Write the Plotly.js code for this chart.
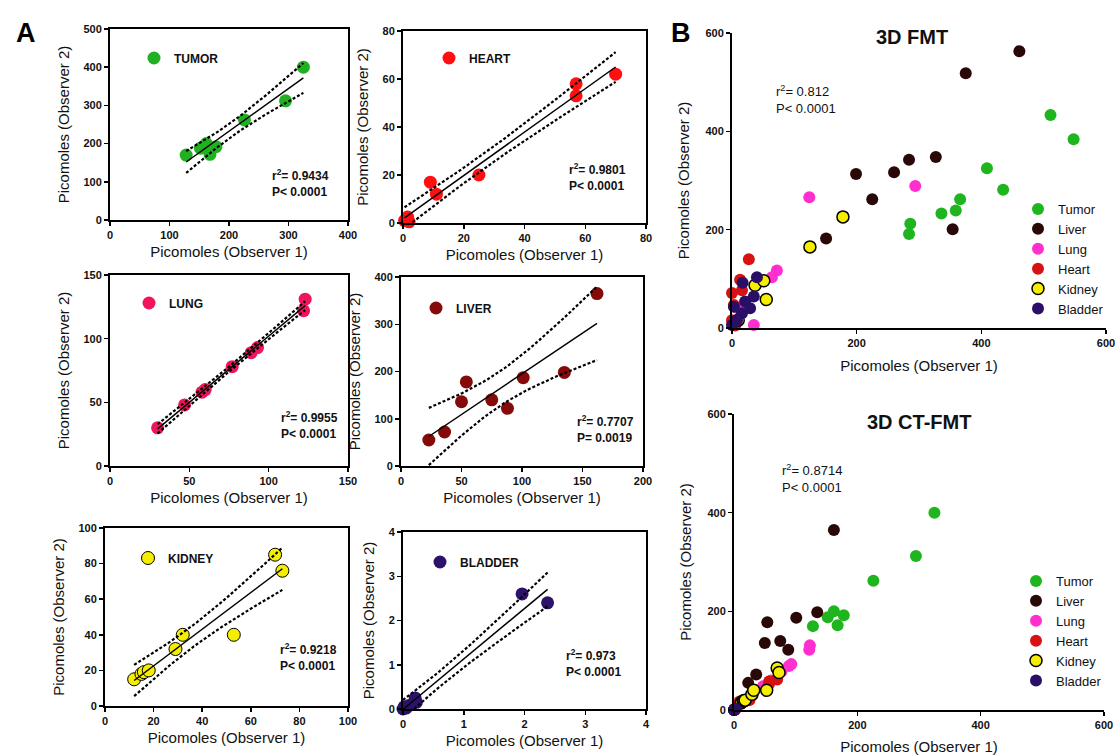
<!DOCTYPE html>
<html><head><meta charset="utf-8">
<script src="https://cdn.plot.ly/plotly-3.0.1.min.js"></script>
<style>html,body{margin:0;padding:0;background:#fff}#chart{width:1117px;height:755px}</style>
</head><body><div id="chart"></div>
<script>
// ---------- Panel A data (Observer 1 vs Observer 2) ----------
const tumorX   = [128, 152, 162, 168, 178, 226, 295, 325];
const tumorY   = [170, 188, 200, 172, 192, 262, 312, 400];
const heartX   = [0.5, 1.5, 2, 9, 11, 25, 57, 57, 70];
const heartY   = [1, 2.5, 0.5, 17, 12, 20, 58, 53, 62];
const lungX    = [30, 47, 58, 60, 77, 89, 93, 122, 123];
const lungY    = [30, 48, 58, 60, 78, 89, 93, 122, 131];
const liverX   = [23, 36, 50, 54, 75, 88, 101, 135, 162];
const liverY   = [55, 72, 136, 178, 140, 122, 187, 198, 365];
const kidneyX  = [12, 15, 16, 18, 29, 32, 53, 70, 73];
const kidneyY  = [15, 18, 19, 20, 32, 40, 40, 85, 76];
const bladderX = [0, 0.02, 0.05, 0.1, 0.2, 0.22, 1.96, 2.38];
const bladderY = [0, 0.05, 0.02, 0.08, 0.25, 0.15, 2.6, 2.4];

// ---------- Panel B, 3D FMT data ----------
const fmtTumorX   = [511, 548, 409, 435, 366, 359, 336, 286, 284];
const fmtTumorY   = [433, 384, 325, 281, 262, 239, 233, 212, 191];
const fmtLiverX   = [461, 375, 327, 284, 260, 199, 225, 354, 151];
const fmtLiverY   = [563, 518, 348, 342, 317, 313, 262, 201, 182];
const fmtLungX    = [124, 294, 72, 64, 35, 10];
const fmtLungY    = [266, 289, 117, 103, 6, 40];
const fmtHeartX   = [27, 13, 0, 16, 3, 0, 5];
const fmtHeartY   = [140, 98, 71, 77, 47, 16, 5];
const fmtKidneyX  = [178, 125, 37, 51, 55, 10];
const fmtKidneyY  = [226, 165, 87, 96, 58, 16];
const fmtBladderX = [40, 17, 35, 21, 3, 29, 16, 8, 0];
const fmtBladderY = [103, 92, 64, 54, 43, 40, 30, 16, 6];

// ---------- Labels ----------
const organNamesA = ['TUMOR', 'HEART', 'LUNG', 'LIVER', 'KIDNEY', 'BLADDER'];
const organNamesB = ['Tumor', 'Liver', 'Lung', 'Heart', 'Kidney', 'Bladder'];
const r2A = ['0.9434', '0.9801', '0.9955', '0.7707', '0.9218', '0.973'];
const pA  = ['P< 0.0001', 'P< 0.0001', 'P< 0.0001', 'P= 0.0019', 'P< 0.0001', 'P< 0.0001'];
const xTitlesA = ['Picomoles (Observer 1)', 'Picomoles (Observer 1)', 'Picolomes (Observer 1)',
                  'Picomoles (Observer 1)', 'Picomoles (Observer 1)', 'Picomoles (Observer 1)'];
const r2B = ['0.812', '0.8714'];
const pB  = ['P< 0.0001', 'P< 0.0001'];
const titlesB = ['3D FMT', '3D CT-FMT'];

const W = 1117, H = 755;
const F = 'Liberation Sans, Arial, sans-serif';
const T95 = {1:12.706,2:4.303,3:3.182,4:2.776,5:2.571,6:2.447,7:2.365,8:2.306,9:2.262,10:2.228};

function regression(x, y) {
  const n = x.length;
  const mx = x.reduce((a, b) => a + b, 0) / n;
  const my = y.reduce((a, b) => a + b, 0) / n;
  let sxx = 0, sxy = 0;
  for (let i = 0; i < n; i++) { sxx += (x[i]-mx)**2; sxy += (x[i]-mx)*(y[i]-my); }
  const b = sxy / sxx, a = my - b * mx;
  let sse = 0;
  for (let i = 0; i < n; i++) sse += (y[i] - (a + b * x[i]))**2;
  const s = Math.sqrt(sse / (n - 2)), t = T95[n - 2];
  const lo = Math.min(...x), hi = Math.max(...x);
  const xs = [], yh = [], up = [], dn = [];
  for (let k = 0; k <= 40; k++) {
    const xv = lo + (hi - lo) * k / 40, yv = a + b * xv;
    const h = t * s * Math.sqrt(1 / n + (xv - mx)**2 / sxx);
    xs.push(xv); yh.push(yv); up.push(yv + h); dn.push(yv - h);
  }
  return {xs, yh, up, dn};
}

const dataA = [[tumorX,tumorY],[heartX,heartY],[lungX,lungY],[liverX,liverY],[kidneyX,kidneyY],[bladderX,bladderY]];
const colorsA = ['#21b021', '#ff1010', '#f0145a', '#850b0b', '#f5ee00', '#2c1268'];
const colorsB = ['#1fb51f', '#2a0808', '#ff2fcf', '#d81212', '#f5ee00', '#2a0f66'];
// layout geometry (pixels)
const geomA = [
  {px:[110,348], py:[29,220],  xr:[0,400], xd:100, yr:[0,500], yd:100, leg:[155,58],  st:[270,165]},
  {px:[403,646], py:[31,223],  xr:[0,80],  xd:20,  yr:[0,80],  yd:20,  leg:[450,58],  st:[567,159]},
  {px:[110,348], py:[275,466], xr:[0,150], xd:50,  yr:[0,150], yd:50,  leg:[150,303], st:[279,407]},
  {px:[401,643], py:[277,466], xr:[0,200], xd:50,  yr:[0,400], yd:100, leg:[437,308], st:[575,411]},
  {px:[105,348], py:[528,706], xr:[0,100], xd:20,  yr:[0,100], yd:20,  leg:[149,558], st:[278,639]},
  {px:[403,646], py:[532,709], xr:[0,4],   xd:1,   yr:[0,4],   yd:1,   leg:[441,562], st:[564,645]}
];
const geomB = [
  {px:[732,1106], py:[33,328],  leg:[1039,259], st:[774,81],  title:[912,37]},
  {px:[734,1104], py:[414,710], leg:[1037,631], st:[780,460], title:[919,422]}
];

function axisCfg(px, py, range, dtick, anchor, title, mirror, isX, standoff) {
  return {
    domain: isX ? [px[0]/W, px[1]/W] : [1 - py[1]/H, 1 - py[0]/H],
    range: range, dtick: dtick, tick0: 0, anchor: anchor,
    showline: true, linecolor: '#000', linewidth: 2, mirror: mirror,
    ticks: 'outside', ticklen: 4, tickwidth: 1.5, tickcolor: '#000',
    showgrid: false, zeroline: false, fixedrange: true,
    tickfont: {family: F, size: 11, weight: 'bold', color: '#111'},
    title: {text: title, font: {family: F, size: 15, color: '#111'}, standoff: standoff}
  };
}

const traces = [];
const layout = {
  width: W, height: H, margin: {l:0, r:0, t:0, b:0},
  paper_bgcolor: '#fff', plot_bgcolor: '#fff', showlegend: true,
  annotations: []
};

function legendCfg(cx, cy, size, weight) {
  return {x: (cx - 21)/W, y: 1 - cy/H, xanchor: 'left', yanchor: 'middle',
          bgcolor: 'rgba(0,0,0,0)', borderwidth: 0, tracegroupgap: 0,
          font: {family: F, size: size, weight: weight, color: '#111'}};
}

// Panel A
dataA.forEach((d, i) => {
  const k = i + 1, sfx = k === 1 ? '' : String(k), g = geomA[i];
  const xa = 'x' + sfx, ya = 'y' + sfx, lg = 'legend' + sfx;
  layout['xaxis' + sfx] = axisCfg(g.px, g.py, g.xr, g.xd, ya, xTitlesA[i], true, true, 6);
  layout['yaxis' + sfx] = axisCfg(g.px, g.py, g.yr, g.yd, xa, 'Picomoles (Observer 2)', true, false, 10);
  layout[lg] = legendCfg(g.leg[0], g.leg[1], 12, 'bold');
  traces.push({type:'scatter', mode:'markers', x:d[0], y:d[1], name:organNamesA[i],
    xaxis:xa, yaxis:ya, legend:lg, cliponaxis:false,
    marker:{size:13, color:colorsA[i], line:{color: i === 4 ? '#000' : colorsA[i], width: i === 4 ? 1 : 0}}});
  const r = regression(d[0], d[1]);
  traces.push({type:'scatter', mode:'lines', x:r.xs, y:r.yh, xaxis:xa, yaxis:ya, showlegend:false,
    line:{color:'#000', width:1.5}, hoverinfo:'skip'});
  [r.up, r.dn].forEach(b => traces.push({type:'scatter', mode:'lines', x:r.xs, y:b, xaxis:xa, yaxis:ya,
    showlegend:false, line:{color:'#000', width:2.2, dash:'3px,2px'}, hoverinfo:'skip', cliponaxis:false}));
  layout.annotations.push({xref:'paper', yref:'paper', x:g.st[0]/W, y:1 - g.st[1]/H,
    xanchor:'left', yanchor:'top', align:'left', showarrow:false,
    text:'r<sup>2</sup>= ' + r2A[i] + '<br>' + pA[i],
    font:{family:F, size:12, weight:'bold', color:'#111'}});
});

// Panel B
const dataFMT = [[fmtTumorX,fmtTumorY],[fmtLiverX,fmtLiverY],[fmtLungX,fmtLungY],
                 [fmtHeartX,fmtHeartY],[fmtKidneyX,fmtKidneyY],[fmtBladderX,fmtBladderY]];
const dataCT  = [[tumorX,tumorY],[liverX,liverY],[lungX,lungY],
                 [heartX,heartY],[kidneyX,kidneyY],[bladderX,bladderY]];
[dataFMT, dataCT].forEach((set, j) => {
  const k = 7 + j, sfx = String(k), g = geomB[j];
  const xa = 'x' + sfx, ya = 'y' + sfx, lg = 'legend' + sfx;
  layout['xaxis' + sfx] = axisCfg(g.px, g.py, [0,600], 200, ya, 'Picomoles (Observer 1)', false, true, 12);
  layout['yaxis' + sfx] = axisCfg(g.px, g.py, [0,600], 200, xa, 'Picomoles (Observer 2)', false, false, 12);
  layout[lg] = legendCfg(g.leg[0], g.leg[1], 13, 'normal');
  set.forEach((d, i) => {
    traces.push({type:'scatter', mode:'markers', x:d[0], y:d[1], name:organNamesB[i],
      xaxis:xa, yaxis:ya, legend:lg, cliponaxis:false,
      marker:{size:12, color:colorsB[i], line:{color: i === 4 ? '#000' : colorsB[i], width: i === 4 ? 1.5 : 0}}});
  });
  layout.annotations.push({xref:'paper', yref:'paper', x:g.st[0]/W, y:1 - g.st[1]/H,
    xanchor:'left', yanchor:'top', align:'left', showarrow:false,
    text:'r<sup>2</sup>= ' + r2B[j] + '<br>' + pB[j],
    font:{family:F, size:13, color:'#111'}});
  layout.annotations.push({xref:'paper', yref:'paper', x:g.title[0]/W, y:1 - g.title[1]/H,
    xanchor:'center', yanchor:'middle', showarrow:false, text:titlesB[j],
    font:{family:F, size:20, weight:'bold', color:'#111'}});
});

// Panel letters
layout.annotations.push({xref:'paper', yref:'paper', x:26/W, y:1 - 33/H, xanchor:'center', yanchor:'middle',
  showarrow:false, text:'A', font:{family:F, size:27, weight:'bold', color:'#000'}});
layout.annotations.push({xref:'paper', yref:'paper', x:681/W, y:1 - 33/H, xanchor:'center', yanchor:'middle',
  showarrow:false, text:'B', font:{family:F, size:27, weight:'bold', color:'#000'}});

Plotly.newPlot('chart', traces, layout, {displayModeBar:false, staticPlot:true});
</script></body></html>
